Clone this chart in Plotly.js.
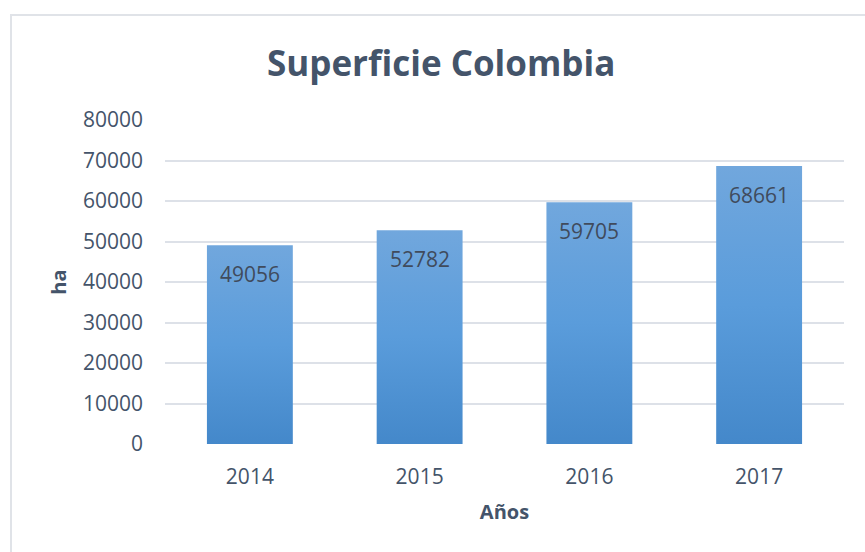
<!DOCTYPE html>
<html>
<head>
<meta charset="utf-8">
<script src="https://cdn.plot.ly/plotly-3.0.1.min.js"></script>
<style>
  html, body { margin: 0; padding: 0; background: #ffffff; }
  #chart { width: 865px; height: 552px; }
</style>
</head>
<body>
<div id="chart"></div>
<script>
const years = ['2014', '2015', '2016', '2017'];
const superficie = [49056, 52782, 59705, 68661];
const yTicks = [0, 10000, 20000, 30000, 40000, 50000, 60000, 70000, 80000];

const textColor = '#44546A';
const font = 'Open Sans, Noto Sans, sans-serif';

const trace = {
  type: 'bar',
  x: years,
  y: superficie,
  marker: { color: '#5A9BD8', line: { width: 0 } },
  hoverinfo: 'x+y'
};

// category axis: annotation x given as category serial number (index in data order)
const annotations = years.map((yr, i) => ({
  x: i, y: superficie[i], xref: 'x', yref: 'y',
  text: String(superficie[i]), showarrow: false,
  yshift: -29, font: { family: font, size: 21, color: '#404B5C' }
}));

const layout = {
  width: 865, height: 552,
  margin: { l: 165, r: 21, t: 120, b: 108 },
  paper_bgcolor: '#ffffff', plot_bgcolor: '#ffffff',
  title: {
    text: '<b>Superficie Colombia</b>',
    font: { family: font, size: 35, color: textColor },
    x: 0.51, xref: 'container', xanchor: 'center',
    y: 0.885, yref: 'container', yanchor: 'middle'
  },
  bargap: 0.494,
  showlegend: false,
  xaxis: {
    type: 'category',
    range: [-0.5, years.length - 0.5],
    showgrid: false, zeroline: false, showline: false, ticks: '',
    ticklabelstandoff: 18,
    tickfont: { family: font, size: 21, color: textColor },
    title: { text: '<b>Años</b>', font: { family: font, size: 20, color: textColor }, standoff: 15 },
    automargin: false
  },
  yaxis: {
    range: [0, 80000],
    tickvals: yTicks,
    ticktext: yTicks.map(String),
    showgrid: true, gridcolor: '#DDE1E8', gridwidth: 2,
    zeroline: false, showline: false, ticks: '',
    ticklabelstandoff: 21,
    tickfont: { family: font, size: 21, color: textColor },
    title: { text: '<b>ha</b>', font: { family: font, size: 20, color: textColor }, standoff: 10 },
    automargin: false
  },
  shapes: [{
    type: 'rect', xref: 'paper', yref: 'paper',
    x0: (11 - 165) / 679, x1: (880 - 165) / 679,
    y0: (444 - 570) / 324, y1: (444 - 15) / 324,
    line: { color: '#E0E3E8', width: 2 }, fillcolor: 'rgba(0,0,0,0)', layer: 'below'
  }],
  annotations: annotations
};

Plotly.newPlot('chart', [trace], layout, { displayModeBar: false, staticPlot: true }).then(gd => {
  const svg = gd.querySelector('svg.main-svg');
  const ns = 'http://www.w3.org/2000/svg';
  let defs = svg.querySelector('defs');
  if (!defs) { defs = document.createElementNS(ns, 'defs'); svg.insertBefore(defs, svg.firstChild); }
  const grad = document.createElementNS(ns, 'linearGradient');
  grad.setAttribute('id', 'barGrad');
  grad.setAttribute('x1', '0'); grad.setAttribute('y1', '0');
  grad.setAttribute('x2', '0'); grad.setAttribute('y2', '1');
  [['0', '#71A7DD'], ['0.5', '#5A9CDB'], ['1', '#4488CA']].forEach(([o, c]) => {
    const s = document.createElementNS(ns, 'stop');
    s.setAttribute('offset', o); s.setAttribute('stop-color', c);
    grad.appendChild(s);
  });
  defs.appendChild(grad);
  gd.querySelectorAll('.bars .point path').forEach(p => { p.style.fill = 'url(#barGrad)'; });
});
</script>
</body>
</html>
